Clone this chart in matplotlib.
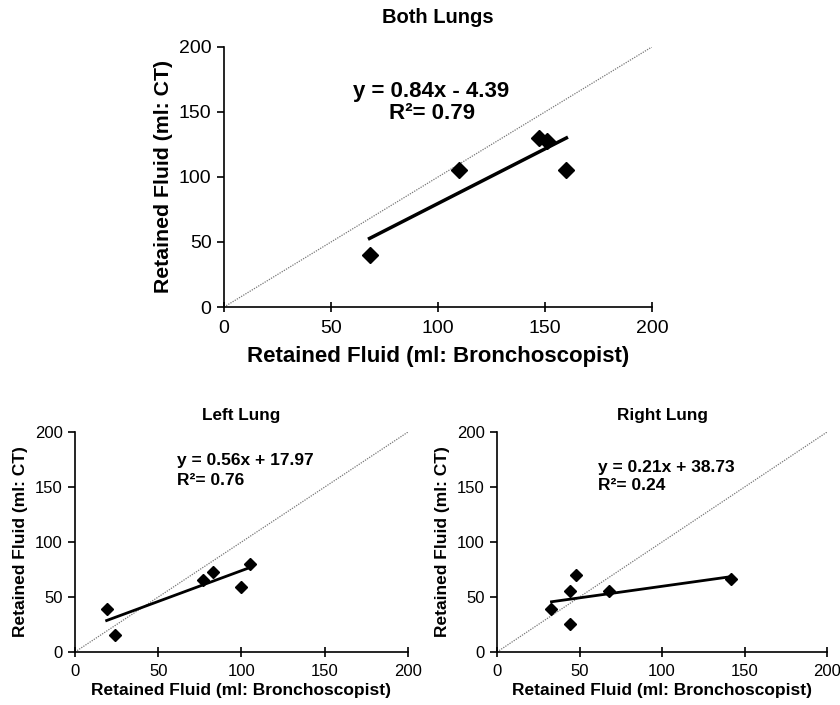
import matplotlib
matplotlib.use("Agg")
import matplotlib.pyplot as plt
import numpy as np

plt.rcParams['font.family'] = ['Liberation Sans', 'DejaVu Sans']

# Data
both_x = [68, 110, 147, 151, 160]
both_y = [40, 105, 130, 128, 105]
both_fit = (0.84, -4.39)
both_eq = ["y = 0.84x - 4.39", "R²= 0.79"]

left_x = [19, 24, 77, 83, 100, 105]
left_y = [39, 15, 65, 73, 59, 80]
left_fit = (0.56, 17.97)
left_eq = ["y = 0.56x + 17.97", "R²= 0.76"]

right_x = [33, 44, 44, 48, 68, 142]
right_y = [39, 25, 55, 70, 55, 66]
right_fit = (0.21, 38.73)
right_eq = ["y = 0.21x + 38.73", "R²= 0.24"]

ticks = [0, 50, 100, 150, 200]
xlabel = "Retained Fluid (ml: Bronchoscopist)"
ylabel = "Retained Fluid (ml: CT)"

fig = plt.figure(figsize=(8.4, 7.05), dpi=100)
ax_top = fig.add_axes([0.2667, 0.5645, 0.5095, 0.369])
ax_l = fig.add_axes([0.0893, 0.0752, 0.3964, 0.312])
ax_r = fig.add_axes([0.5917, 0.0752, 0.3929, 0.312])


def style(ax, xs, ys, fit, title, big):
    tfs = 14 if big else 12
    ms = 8 if big else 6
    ax.plot([0, 200], [0, 200], linestyle=(0, (1, 1)), color='#777777', lw=0.9, zorder=1)
    m, b = fit
    x0, x1 = min(xs), max(xs)
    ax.plot([x0, x1], [m * x0 + b, m * x1 + b], color='black', lw=2.5 if big else 2.0, zorder=2)
    ax.plot(xs, ys, linestyle='none', marker='D', color='black', ms=ms, zorder=3)
    ax.set_xlim(0, 200)
    ax.set_ylim(0, 200)
    ax.set_xticks(ticks)
    ax.set_yticks(ticks)
    for s in ['top', 'right']:
        ax.spines[s].set_visible(False)
    for s in ['left', 'bottom']:
        ax.spines[s].set_linewidth(1.2)
    ax.tick_params(axis='x', direction='inout', length=7, width=1.2, labelsize=tfs,
                   pad=6 if big else 5)
    ax.tick_params(axis='y', direction='out', length=5, width=1.2, labelsize=tfs, pad=4)
    ax.set_xlabel(xlabel, fontsize=16 if big else 12.5, fontweight='bold',
                  labelpad=6 if big else 3)
    ax.set_ylabel(ylabel, fontsize=15.3 if big else 12.5, fontweight='bold',
                  labelpad=4 if big else 5)
    ax.set_title(title, fontsize=14.5 if big else 12.3, fontweight='bold', pad=17 if big else 9)


style(ax_top, both_x, both_y, both_fit, "Both Lungs", True)
style(ax_l, left_x, left_y, left_fit, "Left Lung", False)
style(ax_r, right_x, right_y, right_fit, "Right Lung", False)

ax_top.text(97, 165.5, both_eq[0], ha='center', va='center', fontsize=16, fontweight='bold')
ax_top.text(97, 148.5, both_eq[1], ha='center', va='center', fontsize=16, fontweight='bold')

ax_l.text(61, 174, left_eq[0], ha='left', va='center', fontsize=12.5, fontweight='bold')
ax_l.text(61, 156, left_eq[1], ha='left', va='center', fontsize=12.5, fontweight='bold')

ax_r.text(61, 168, right_eq[0], ha='left', va='center', fontsize=12.5, fontweight='bold')
ax_r.text(61, 151, right_eq[1], ha='left', va='center', fontsize=12.5, fontweight='bold')

fig.savefig("out.png", dpi=100)
